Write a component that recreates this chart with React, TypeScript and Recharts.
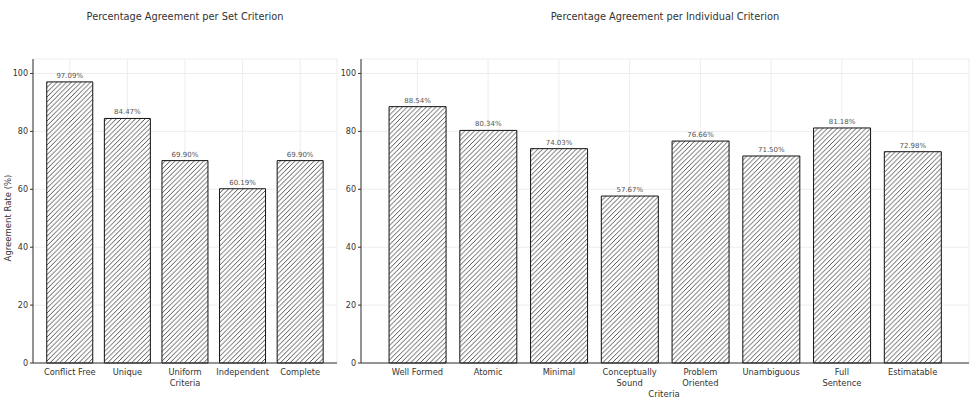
import { Bar, BarChart, CartesianGrid, LabelList, XAxis, YAxis } from 'recharts';

const setCriteria = ['Conflict Free', 'Unique', 'Uniform\nCriteria', 'Independent', 'Complete'];
const setAgreement = [97.09, 84.47, 69.9, 60.19, 69.9];

const individualCriteria = [
    'Well Formed',
    'Atomic',
    'Minimal',
    'Conceptually\nSound',
    'Problem\nOriented',
    'Unambiguous',
    'Full\nSentence',
    'Estimatable',
];
const individualAgreement = [88.54, 80.34, 74.03, 57.67, 76.66, 71.5, 81.18, 72.98];

const yTicks = [0, 20, 40, 60, 80, 100];

const FONT = '"DejaVu Sans", sans-serif';
const TEXT = '#333';

const setData = setCriteria.map((name, i) => ({ name, value: setAgreement[i] }));
const individualData = individualCriteria.map((name, i) => ({ name, value: individualAgreement[i] }));

function MultiLineTick(props: any) {
    const { x, y, payload } = props;
    const lines = String(payload.value).split('\n');
    return (
        <text x={x} y={y} textAnchor="middle" fill={TEXT} fontSize={8.3} fontFamily={FONT}>
            {lines.map((line, i) => (
                <tspan key={i} x={x} dy={i === 0 ? 7 : 11}>
                    {line}
                </tspan>
            ))}
        </text>
    );
}

function Panel({ data, width, yWidth, padX }: { data: any[]; width: number; yWidth: number; padX: number }) {
    return (
        <BarChart
            width={width}
            height={403}
            data={data}
            margin={{ top: 59, right: 4, bottom: 10, left: 8 }}
            barCategoryGap="10%"
        >
            <CartesianGrid stroke="#e8e8e8" strokeWidth={0.8} />
            <XAxis
                dataKey="name"
                interval={0}
                height={30}
                padding={{ left: padX, right: padX }}
                tickLine={false}
                tickSize={3}
                axisLine={{ stroke: '#333', strokeWidth: 1 }}
                tick={<MultiLineTick />}
            />
            <YAxis
                width={yWidth}
                domain={[0, 105]}
                ticks={yTicks}
                tickSize={3}
                tickMargin={2}
                tick={{ fill: TEXT, fontSize: 8, fontFamily: FONT }}
                axisLine={{ stroke: '#333', strokeWidth: 1 }}
                tickLine={{ stroke: '#333' }}
            />
            <Bar dataKey="value" fill="url(#hatch)" stroke="#111" strokeWidth={1} isAnimationActive={false}>
                <LabelList
                    dataKey="value"
                    position="top"
                    offset={4}
                    formatter={(v: any) => `${Number(v).toFixed(2)}%`}
                    style={{ fill: '#555', fontSize: 7, fontFamily: FONT }}
                />
            </Bar>
        </BarChart>
    );
}

export default function App() {
    const title: React.CSSProperties = {
        position: 'absolute',
        top: 11,
        fontFamily: FONT,
        fontSize: 9.8,
        color: TEXT,
        textAlign: 'center',
        whiteSpace: 'nowrap',
        transform: 'translateX(-50%)',
    };
    return (
        <div style={{ position: 'absolute', left: 0, top: 0, width: 973, height: 403, background: '#fff', overflow: 'hidden' }}>
            <svg width={0} height={0} style={{ position: 'absolute' }}>
                <defs>
                    <pattern id="hatch" patternUnits="userSpaceOnUse" width={4.8} height={4.8}>
                        <rect width={4.8} height={4.8} fill="#fff" />
                        <path d="M-1,1 L1,-1 M0,4.8 L4.8,0 M3.8,5.8 L5.8,3.8" stroke="#2a2a2a" strokeWidth={0.8} />
                    </pattern>
                </defs>
            </svg>

            <div style={{ ...title, left: 185 }}>Percentage Agreement per Set Criterion</div>
            <div style={{ ...title, left: 665 }}>Percentage Agreement per Individual Criterion</div>

            <div
                style={{
                    position: 'absolute',
                    left: 8,
                    top: 218,
                    fontFamily: FONT,
                    fontSize: 8.5,
                    color: TEXT,
                    whiteSpace: 'nowrap',
                    transform: 'translate(-50%, -50%) rotate(-90deg)',
                }}
            >
                Agreement Rate (%)
            </div>

            <div style={{ position: 'absolute', left: 0, top: 0 }}>
                <Panel data={setData} width={341} yWidth={25} padX={8} />
            </div>
            <div style={{ position: 'absolute', left: 327, top: 0 }}>
                <Panel data={individualData} width={646} yWidth={26} padX={21} />
            </div>

            <div
                style={{
                    position: 'absolute',
                    left: 664,
                    top: 394,
                    fontFamily: FONT,
                    fontSize: 8.5,
                    color: TEXT,
                    transform: 'translate(-50%, -50%)',
                }}
            >
                Criteria
            </div>
        </div>
    );
}
